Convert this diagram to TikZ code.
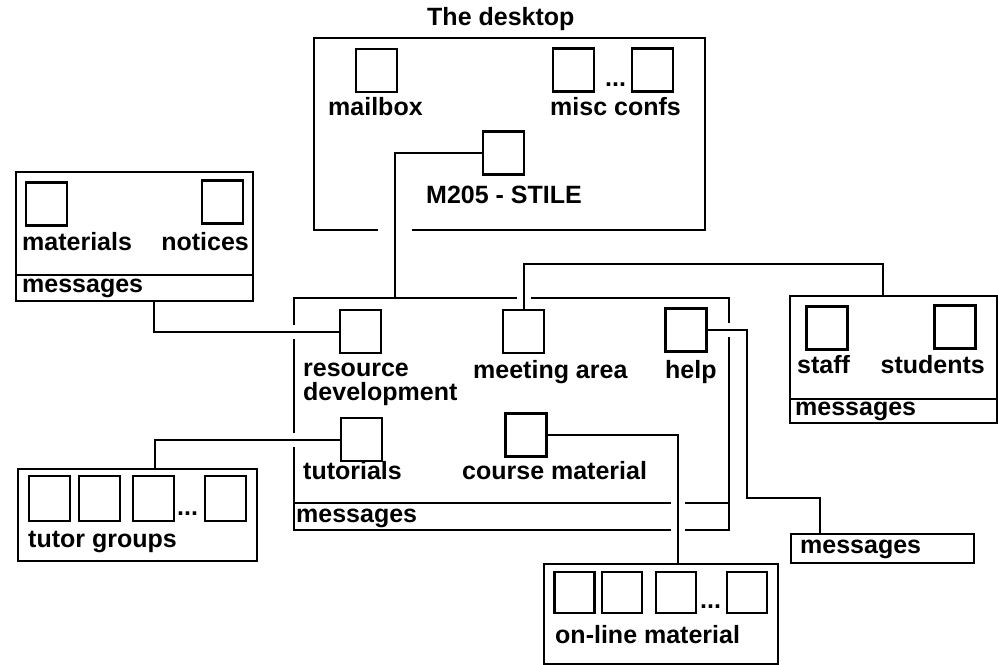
\documentclass[tikz,border=0pt]{standalone}
\usepackage{fontspec}
\setmainfont{Liberation Sans}
\begin{document}
\begin{tikzpicture}[x=1pt,y=-1pt,
    icon/.style={draw, line width=2.5pt, minimum width=41pt, minimum height=43pt, inner sep=0pt},
    panel/.style={draw, line width=2pt, inner sep=0pt, anchor=north west},
    tag/.style={font=\bfseries\fontsize{25}{22}\selectfont, inner sep=0pt, anchor=base west, align=left},
    link/.style={line width=2pt, preaction={draw=white, line width=14pt, shorten <=4pt, shorten >=4pt}}]
    \useasboundingbox (0,0) rectangle (998,664);
    % the desktop
    \node[panel, minimum width=391pt, minimum height=192pt] (desk) at (313,37) {};
    \fill[white] (378,225) rectangle (412,233);
    \node[icon] (mailbox) at (376.5,70.5) {};
    \node[icon] (misca) at (573.5,70) {};
    \node[icon] (miscb) at (652.5,70) {};
    \node[icon] (m205) at (503.5,153) {};
    % resource development area
    \node[panel, minimum width=237pt, minimum height=129pt] (resbox) at (15,171) {};
    \node[panel, minimum width=237pt, minimum height=26pt] (resmsg) at (15,274) {};
    \node[icon] (materials) at (46.5,204) {};
    \node[icon] (notices) at (222.5,202) {};
    % the course conference
    \node[panel, minimum width=435pt, minimum height=232pt] (stile) at (293,297) {};
    \node[panel, minimum width=435pt, minimum height=27pt] (stilemsg) at (293,502) {};
    \node[icon] (resource) at (360.5,331.5) {};
    \node[icon] (meeting) at (523.5,331.5) {};
    \node[icon] (help) at (686,330) {};
    \node[icon] (tutorials) at (361.5,439.5) {};
    \node[icon] (course) at (526,435) {};
    % meeting area
    \node[panel, minimum width=207pt, minimum height=127pt] (meetbox) at (789,295) {};
    \node[panel, minimum width=207pt, minimum height=24pt] (meetmsg) at (789,398) {};
    \node[icon] (staff) at (827,328) {};
    \node[icon] (students) at (955,327) {};
    % help
    \node[panel, minimum width=183pt, minimum height=29pt] (helpbox) at (790,533) {};
    % tutor groups
    \node[panel, minimum width=239pt, minimum height=92pt] (tutbox) at (17,468) {};
    \foreach \x/\n in {49.5/1, 99.5/2, 153.5/3, 225.5/4}
        \node[icon, minimum height=45pt] (tut\n) at (\x,498.5) {};
    % on-line material
    \node[panel, minimum width=234pt, minimum height=100pt] (onbox) at (543,563) {};
    \foreach \x/\n in {574.5/1, 622/2, 676/3, 747/4}
        \node[icon, minimum width=40pt, minimum height=41pt] (on\n) at (\x,592.5) {};
    % connectors
    \draw[link] (m205.west) -| ([xshift=102pt]stile.north west);
    \draw[link] ([xshift=139pt]resbox.south west) |- (resource.west);
    \draw[link] (meeting.north) -- ++(0,-45) -| ([xshift=94pt]meetbox.north west);
    \draw[link] (help.east) -- ++(39,0) -- ++(0,168) -| ([xshift=30pt]helpbox.north west);
    \draw[link] (tutorials.west) -| ([xshift=138pt]tutbox.north west);
    \draw[link] (course.east) -| ([xshift=135pt]onbox.north west);
    % labels
    \node[tag] (ltitle) at (427,25) {The desktop};
    \node[tag] (lmailbox) at (328,115) {mailbox};
    \node[tag] (lmisc) at (550,115) {misc confs};
    \node[tag] (dmisc) at (605,86) {...};
    \node[tag] (lm205) at (426,203) {M205 - STILE};
    \node[tag] (lmaterials) at (22,250) {materials};
    \node[tag, anchor=base east] (lnotices) at (249,250) {notices};
    \node[tag] (lresmsg) at (22,292) {messages};
    \node[tag] (lresource) at (303,400) {resource\\[2pt]development};
    \node[tag] (lmeeting) at (473,378) {meeting area};
    \node[tag] (lhelp) at (665,378) {help};
    \node[tag] (ltutorials) at (303,479) {tutorials};
    \node[tag] (lcourse) at (462,479) {course material};
    \node[tag] (lstilemsg) at (296,522) {messages};
    \node[tag] (lstaff) at (797,373) {staff};
    \node[tag, anchor=base east] (lstudents) at (985,373) {students};
    \node[tag] (lmeetmsg) at (795,415) {messages};
    \node[tag] (lhelpmsg) at (800,553) {messages};
    \node[tag] (ltut) at (28,547) {tutor groups};
    \node[tag] (dtut) at (177,515) {...};
    \node[tag] (lon) at (555,643) {on-line material};
    \node[tag] (don) at (700,608) {...};
\end{tikzpicture}
\end{document}
